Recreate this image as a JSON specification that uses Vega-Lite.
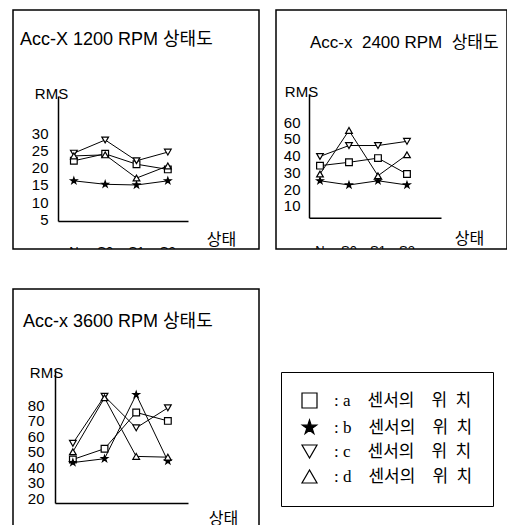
{
  "$schema": "https://vega.github.io/schema/vega-lite/v6.json",
  "padding": {"left": 12, "top": 9, "right": 0, "bottom": 0},
  "background": "white",
  "data": {"values": [
    {"rpm": 1200, "series": "a", "state": "N", "rms": 22},
    {"rpm": 1200, "series": "a", "state": "S0", "rms": 24},
    {"rpm": 1200, "series": "a", "state": "S1", "rms": 21},
    {"rpm": 1200, "series": "a", "state": "S2", "rms": 19.5},
    {"rpm": 1200, "series": "b", "state": "N", "rms": 16.2},
    {"rpm": 1200, "series": "b", "state": "S0", "rms": 15.2},
    {"rpm": 1200, "series": "b", "state": "S1", "rms": 15},
    {"rpm": 1200, "series": "b", "state": "S2", "rms": 16.2},
    {"rpm": 1200, "series": "c", "state": "N", "rms": 24.2},
    {"rpm": 1200, "series": "c", "state": "S0", "rms": 28},
    {"rpm": 1200, "series": "c", "state": "S1", "rms": 22},
    {"rpm": 1200, "series": "c", "state": "S2", "rms": 24.5},
    {"rpm": 1200, "series": "d", "state": "N", "rms": 23.4},
    {"rpm": 1200, "series": "d", "state": "S0", "rms": 23.7},
    {"rpm": 1200, "series": "d", "state": "S1", "rms": 17},
    {"rpm": 1200, "series": "d", "state": "S2", "rms": 20.5},
    {"rpm": 2400, "series": "a", "state": "N", "rms": 34},
    {"rpm": 2400, "series": "a", "state": "S0", "rms": 36},
    {"rpm": 2400, "series": "a", "state": "S1", "rms": 38.5},
    {"rpm": 2400, "series": "a", "state": "S2", "rms": 29},
    {"rpm": 2400, "series": "b", "state": "N", "rms": 25},
    {"rpm": 2400, "series": "b", "state": "S0", "rms": 22.5},
    {"rpm": 2400, "series": "b", "state": "S1", "rms": 25},
    {"rpm": 2400, "series": "b", "state": "S2", "rms": 22.5},
    {"rpm": 2400, "series": "c", "state": "N", "rms": 39.5},
    {"rpm": 2400, "series": "c", "state": "S0", "rms": 46},
    {"rpm": 2400, "series": "c", "state": "S1", "rms": 46},
    {"rpm": 2400, "series": "c", "state": "S2", "rms": 48.5},
    {"rpm": 2400, "series": "d", "state": "N", "rms": 29},
    {"rpm": 2400, "series": "d", "state": "S0", "rms": 55},
    {"rpm": 2400, "series": "d", "state": "S1", "rms": 28},
    {"rpm": 2400, "series": "d", "state": "S2", "rms": 40.5},
    {"rpm": 3600, "series": "a", "state": "N", "rms": 45},
    {"rpm": 3600, "series": "a", "state": "S0", "rms": 52},
    {"rpm": 3600, "series": "a", "state": "S1", "rms": 75.5},
    {"rpm": 3600, "series": "a", "state": "S2", "rms": 70},
    {"rpm": 3600, "series": "b", "state": "N", "rms": 43},
    {"rpm": 3600, "series": "b", "state": "S0", "rms": 45.5},
    {"rpm": 3600, "series": "b", "state": "S1", "rms": 87},
    {"rpm": 3600, "series": "b", "state": "S2", "rms": 44},
    {"rpm": 3600, "series": "c", "state": "N", "rms": 55.5},
    {"rpm": 3600, "series": "c", "state": "S0", "rms": 86},
    {"rpm": 3600, "series": "c", "state": "S1", "rms": 65.5},
    {"rpm": 3600, "series": "c", "state": "S2", "rms": 78.5},
    {"rpm": 3600, "series": "d", "state": "N", "rms": 50},
    {"rpm": 3600, "series": "d", "state": "S0", "rms": 85},
    {"rpm": 3600, "series": "d", "state": "S1", "rms": 47},
    {"rpm": 3600, "series": "d", "state": "S2", "rms": 46.5}
  ]},
  "spacing": 38,
  "vconcat": [
    {
      "spacing": 15,
      "hconcat": [
        {
          "width": 246, "height": 239,
          "title": {"text": "Acc-X 1200 RPM 상태도", "anchor": "start", "frame": "group", "offset": -48, "dx": 7, "baseline": "middle", "fontSize": 18, "fontWeight": "normal", "font": "Liberation Sans, Noto Sans CJK KR", "color": "black"},
          "transform": [{"filter": "datum.rpm === 1200"}],
          "encoding": {
            "x": {"field": "state", "type": "ordinal", "scale": {"type": "point", "domain": ["N", "S0", "S1", "S2"], "range": [45, 175], "padding": 0.575, "align": 0.44},
              "axis": {"offset": -28, "labels": false, "ticks": false, "title": "상태", "titleX": 208, "titleY": 18, "titleAlign": "center", "titleBaseline": "middle", "titleFontSize": 16}},
            "y": {"field": "rms", "type": "quantitative", "scale": {"domain": [4.6, 40.7], "range": [211, 86], "nice": false, "zero": false},
              "axis": {"offset": -45, "values": [5, 10, 15, 20, 25, 30], "labelPadding": 10, "title": "RMS", "titleAngle": 0, "titleX": -7, "titleY": 83, "titleAlign": "center", "titleBaseline": "middle"}}
          },
          "layer": [
            {"mark": {"type": "line", "color": "black", "strokeWidth": 1}, "encoding": {"detail": {"field": "series"}}},
            {"mark": {"type": "point", "filled": true, "strokeWidth": 1.2, "size": 45, "opacity": 1},
              "encoding": {
                "shape": {"field": "series", "type": "nominal", "scale": {"domain": ["a", "b", "c", "d"], "range": ["square", "M0,-1L0.2245,-0.309L0.951,-0.309L0.363,0.118L0.588,0.809L0,0.382L-0.588,0.809L-0.363,0.118L-0.951,-0.309L-0.2245,-0.309Z", "triangle-down", "triangle-up"]},
                  "legend": {"orient": "none", "legendX": 268, "legendY": 362, "title": null, "strokeColor": "black", "padding": 20, "rowPadding": 6, "symbolSize": 225, "symbolStrokeWidth": 1.2, "labelFont": "Liberation Serif, Noto Sans CJK KR", "labelFontSize": 17, "labelColor": "black", "labelOffset": 16, "labelLimit": 400,
                    "labelExpr": "':\u00a0' + datum.label + '\u00a0\u00a0\u00a0\u00a0센서의\u00a0\u00a0\u00a0\u00a0위\u00a0\u00a0치\u00a0\u00a0'"}},
                "fill": {"field": "series", "type": "nominal", "scale": {"domain": ["a", "b", "c", "d"], "range": ["white", "black", "white", "white"]},
                  "legend": {"orient": "none", "legendX": 268, "legendY": 362, "title": null, "strokeColor": "black", "padding": 20, "rowPadding": 6, "symbolSize": 225, "symbolStrokeWidth": 1.2, "labelFont": "Liberation Serif, Noto Sans CJK KR", "labelFontSize": 17, "labelColor": "black", "labelOffset": 16, "labelLimit": 400,
                    "labelExpr": "':\u00a0' + datum.label + '\u00a0\u00a0\u00a0\u00a0센서의\u00a0\u00a0\u00a0\u00a0위\u00a0\u00a0치\u00a0\u00a0'"}},
                "stroke": {"field": "series", "type": "nominal", "scale": {"domain": ["a", "b", "c", "d"], "range": ["black", "black", "black", "black"]},
                  "legend": {"orient": "none", "legendX": 268, "legendY": 362, "title": null, "strokeColor": "black", "padding": 20, "rowPadding": 6, "symbolSize": 225, "symbolStrokeWidth": 1.2, "labelFont": "Liberation Serif, Noto Sans CJK KR", "labelFontSize": 17, "labelColor": "black", "labelOffset": 16, "labelLimit": 400,
                    "labelExpr": "':\u00a0' + datum.label + '\u00a0\u00a0\u00a0\u00a0센서의\u00a0\u00a0\u00a0\u00a0위\u00a0\u00a0치\u00a0\u00a0'"}}
              }},
            {"transform": [{"filter": "datum.series === 'a'"}], "mark": {"type": "text", "clip": true, "baseline": "top", "fontSize": 13, "font": "Liberation Sans", "color": "black"},
              "encoding": {"text": {"field": "state"}, "y": {"datum": -2.5}}}
          ]
        },
        {
          "width": 231, "height": 239,
          "title": {"text": "Acc-x\u00a0 2400 RPM\u00a0 상태도", "anchor": "start", "frame": "group", "offset": -50, "dx": 34, "baseline": "middle", "fontSize": 17, "fontWeight": "normal", "font": "Liberation Sans, Noto Sans CJK KR", "color": "black"},
          "transform": [{"filter": "datum.rpm === 2400"}],
          "encoding": {
            "x": {"field": "state", "type": "ordinal", "scale": {"type": "point", "domain": ["N", "S0", "S1", "S2"], "range": [33, 165], "padding": 0.776, "align": 0.244},
              "axis": {"offset": -31.3, "labels": false, "ticks": false, "title": "상태", "titleX": 193, "titleY": 21, "titleAlign": "center", "titleBaseline": "middle", "titleFontSize": 16}},
            "y": {"field": "rms", "type": "quantitative", "scale": {"domain": [3, 76.7], "range": [207.7, 84], "nice": false, "zero": false},
              "axis": {"offset": -33, "values": [10, 20, 30, 40, 50, 60], "labelPadding": 9, "title": "RMS", "titleAngle": 0, "titleX": -8, "titleY": 81, "titleAlign": "center", "titleBaseline": "middle"}}
          },
          "layer": [
            {"mark": {"type": "line", "color": "black", "strokeWidth": 1}, "encoding": {"detail": {"field": "series"}}},
            {"mark": {"type": "point", "filled": true, "strokeWidth": 1.2, "size": 45, "opacity": 1},
              "encoding": {"shape": {"field": "series", "type": "nominal"}, "fill": {"field": "series", "type": "nominal"}, "stroke": {"field": "series", "type": "nominal"}}},
            {"transform": [{"filter": "datum.series === 'a'"}], "mark": {"type": "text", "clip": true, "baseline": "top", "fontSize": 13, "font": "Liberation Sans", "color": "black"},
              "encoding": {"text": {"field": "state"}, "y": {"datum": -13.5}}}
          ]
        }
      ]
    },
    {
      "width": 246, "height": 245,
      "title": {"text": "Acc-x 3600 RPM 상태도", "anchor": "start", "frame": "group", "offset": -51, "dx": 10, "baseline": "middle", "fontSize": 18, "fontWeight": "normal", "font": "Liberation Sans, Noto Sans CJK KR", "color": "black"},
      "transform": [{"filter": "datum.rpm === 3600"}],
      "encoding": {
        "x": {"field": "state", "type": "ordinal", "scale": {"type": "point", "domain": ["N", "S0", "S1", "S2"], "range": [42, 175], "padding": 0.6, "align": 0.47},
          "axis": {"offset": -31, "labels": false, "ticks": false, "title": "상태", "titleX": 210, "titleY": 15, "titleAlign": "center", "titleBaseline": "middle", "titleFontSize": 16}},
        "y": {"field": "rms", "type": "quantitative", "scale": {"domain": [16.8, 103], "range": [214, 81], "nice": false, "zero": false},
          "axis": {"offset": -42, "values": [20, 30, 40, 50, 60, 70, 80], "labelPadding": 11, "title": "RMS", "titleAngle": 0, "titleX": -9, "titleY": 83, "titleAlign": "center", "titleBaseline": "middle"}}
      },
      "layer": [
        {"mark": {"type": "line", "color": "black", "strokeWidth": 1}, "encoding": {"detail": {"field": "series"}}},
        {"mark": {"type": "point", "filled": true, "strokeWidth": 1.2, "size": 45, "opacity": 1},
          "encoding": {"shape": {"field": "series", "type": "nominal"}, "fill": {"field": "series", "type": "nominal"}, "stroke": {"field": "series", "type": "nominal"}}}
      ]
    }
  ],
  "resolve": {"scale": {"shape": "shared", "fill": "shared", "stroke": "shared"}, "legend": {"shape": "shared", "fill": "shared", "stroke": "shared"}},
  "config": {
    "view": {"stroke": "black", "strokeWidth": 1.5},
    "axis": {"domainColor": "black", "domainWidth": 1.5, "grid": false, "ticks": false, "labelColor": "black", "titleColor": "black", "labelFont": "Liberation Sans", "titleFont": "Liberation Sans, Noto Sans CJK KR", "labelFontSize": 15, "titleFontSize": 15, "titleFontWeight": "normal"}
  }
}
